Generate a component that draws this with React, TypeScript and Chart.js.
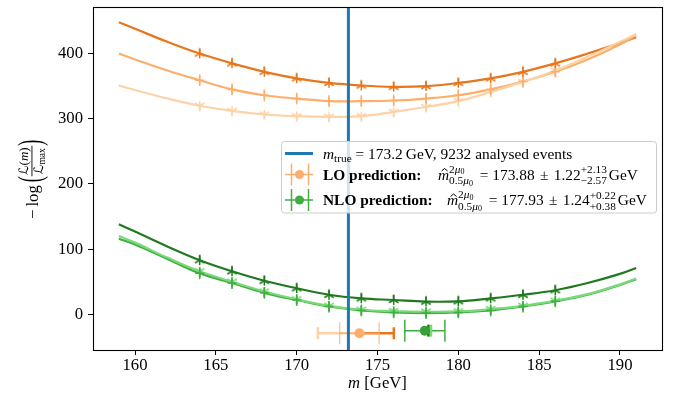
import React, { useEffect, useRef } from "react";
import { Chart, registerables } from "chart.js";

Chart.register(...registerables);

// ---------------- data ----------------
const xTickValues = [160, 165, 170, 175, 180, 185, 190];
const yTickValues = [0, 100, 200, 300, 400];
const xLimits = [157.4, 192.6];
const yLimits = [-54.7, 471.4];

const mTrue = 173.2;

const curveMass = [159, 160, 162, 164, 166, 168, 170, 172, 174, 176, 178, 180, 182, 184, 186, 188, 190, 191];
const loDarkCurve = [448, 438, 418, 400, 385, 372, 362, 355, 351, 349, 350, 355, 362, 372, 385, 400, 416, 425];
const loMidCurve = [400, 391, 374, 359, 345, 336, 331, 327, 327, 328, 331, 336, 345, 357, 372, 391, 414, 428];
const loLightCurve = [351, 344, 331, 320, 312, 306.5, 304, 303, 304, 310.5, 318, 327, 341, 356.5, 374, 395, 418, 430];
const nloDarkCurve = [138, 127, 104, 83, 66, 51.5, 40, 30, 24.5, 22, 19.5, 20, 24.5, 30, 37, 48, 62, 71];
const nloMidCurve = [116, 107, 85, 63, 48, 33, 22, 12, 6, 3, 2, 3, 6, 12, 20, 30, 45, 54];
const nloLightCurve = [120, 110, 87, 66, 50, 35, 23, 13, 7, 5, 4, 4.5, 8, 13, 21, 31, 46, 55];

const markerMass = [164, 166, 168, 170, 172, 174, 176, 178, 180, 182, 184, 186];
const loDarkPts = [400, 385, 372, 362, 355, 351, 349, 350, 355, 362, 372, 385];
const loMidPts = [359, 345, 336, 331, 327, 327, 328, 331, 336, 345, 357, 372];
const loLightPts = [320, 312, 306.5, 304, 303, 304, 310.5, 318, 327, 341, 356.5, 374];
const nloDarkPts = [83, 66, 51.5, 40, 30, 24.5, 22, 19.5, 20, 24.5, 30, 37];
const nloMidPts = [63, 48, 33, 22, 12, 6, 3, 2, 3, 6, 12, 20];
const nloLightPts = [66, 50, 35, 23, 13, 7, 5, 4, 4.5, 8, 13, 21];

const darkErr = 7.5;
const midErr = 9;
const lightErr = 7;

// fitted top-mass results
const loMass = 173.88;
const loStat = 1.22;
const loSysUp = 2.13;
const loSysDown = 2.57;
const loRowY = -29;
const nloMass = 177.93;
const nloStat = 1.24;
const nloSysA = 0.22;
const nloSysB = 0.38;
const nloRowY = -25;

// ---------------- styles ----------------
const C_BLUE = "#1f77b4";
const C_LO_DARK = "#e8761c";
const C_LO_MID = "#fdae6b";
const C_LO_LIGHT = "#fcd2a6";
const C_NLO_DARK = "#1f7a1f";
const C_NLO_MID = "#40ad40";
const C_NLO_LIGHT = "#78da78";

const SERIF = "'Liberation Serif', 'DejaVu Serif', serif";
const CAL = "'DejaVu Serif', 'DejaVu Sans', serif";
const fnt = (size: number, style = "") => `${style} ${size}px ${SERIF}`.trim();

function triCanvas(color: string, up: boolean) {
  const s = 14;
  const c = document.createElement("canvas");
  c.width = s;
  c.height = s;
  const g = c.getContext("2d")!;
  g.strokeStyle = color;
  g.lineWidth = 1.5;
  const r = 5.5;
  const angles = up ? [-90, 30, 150] : [90, -30, -150];
  angles.forEach((a) => {
    const t = (a * Math.PI) / 180;
    g.beginPath();
    g.moveTo(7, 7);
    g.lineTo(7 + r * Math.cos(t), 7 + r * Math.sin(t));
    g.stroke();
  });
  return c;
}

function curveSet(vals: number[], color: string) {
  return {
    type: "line",
    data: curveMass.map((m, i) => ({ x: m, y: vals[i] })),
    borderColor: color,
    borderWidth: 2.2,
    pointRadius: 0,
    tension: 0.4,
    fill: false,
    order: 2,
  };
}

function markerSet(vals: number[], color: string, style: any, err: number, radius: number) {
  return {
    type: "line",
    data: markerMass.map((m, i) => ({ x: m, y: vals[i] })),
    showLine: false,
    borderColor: color,
    backgroundColor: color,
    pointStyle: style,
    pointRadius: radius,
    pointBorderWidth: 1.5,
    yErr: err,
    order: 1,
  };
}

function drawRuns(ctx: CanvasRenderingContext2D, runs: any[], x: number, y: number): number {
  const x0 = x;
  for (const r of runs) {
    if (r.stack) {
      const w1 = drawRuns(ctx, r.stack[0], x, y - r.up);
      const w2 = drawRuns(ctx, r.stack[1], x, y + r.down);
      x += Math.max(w1, w2);
    } else if (r.space !== undefined) {
      x += r.space;
    } else {
      ctx.font = r.f;
      const w = ctx.measureText(r.t).width;
      ctx.fillText(r.t, x, y + (r.dy || 0));
      if (r.hat) {
        const cx = x + w / 2 + 1;
        const top = y - r.hat;
        ctx.beginPath();
        ctx.lineWidth = 1;
        ctx.moveTo(cx - 3, top + 2.5);
        ctx.lineTo(cx, top);
        ctx.lineTo(cx + 3, top + 2.5);
        ctx.stroke();
      }
      x += w;
    }
  }
  return x - x0;
}

function hLineErr(ctx: CanvasRenderingContext2D, x1: number, x2: number, y: number, color: string, lw: number, capH: number, caps: number[]) {
  ctx.strokeStyle = color;
  ctx.lineWidth = lw;
  ctx.beginPath();
  ctx.moveTo(x1, y);
  ctx.lineTo(x2, y);
  ctx.stroke();
  caps.forEach((cx) => {
    ctx.beginPath();
    ctx.moveTo(cx, y - capH);
    ctx.lineTo(cx, y + capH);
    ctx.stroke();
  });
}

const decorPlugin = {
  id: "decor",
  beforeDatasetsDraw(chart: any) {
    const ctx = chart.ctx as CanvasRenderingContext2D;
    const xs = chart.scales.x;
    const ys = chart.scales.y;
    const px = (v: number) => xs.getPixelForValue(v);
    ctx.save();
    // LO summary
    let y = ys.getPixelForValue(loRowY);
    hLineErr(ctx, px(loMass - loSysDown), px(loMass), y, C_LO_LIGHT, 2.5, 6, [px(loMass - loSysDown)]);
    hLineErr(ctx, px(loMass), px(loMass + loSysUp), y, C_LO_DARK, 2.5, 6, [px(loMass + loSysUp)]);
    hLineErr(ctx, px(loMass - loStat), px(loMass + loStat), y, "rgba(253,174,107,0.75)", 1.3, 11, [px(loMass - loStat), px(loMass + loStat)]);
    ctx.fillStyle = C_LO_MID;
    ctx.beginPath();
    ctx.arc(px(loMass), y, 5, 0, Math.PI * 2);
    ctx.fill();
    // NLO summary
    y = ys.getPixelForValue(nloRowY);
    hLineErr(ctx, px(nloMass - nloStat), px(nloMass + nloStat), y, C_NLO_MID, 1.5, 11, [px(nloMass - nloStat), px(nloMass + nloStat)]);
    hLineErr(ctx, px(nloMass), px(nloMass + nloSysB), y, C_NLO_LIGHT, 2.5, 6, [px(nloMass + nloSysB)]);
    hLineErr(ctx, px(nloMass), px(nloMass + nloSysA), y, C_NLO_DARK, 2.5, 6, [px(nloMass + nloSysA)]);
    ctx.fillStyle = "#38a038";
    ctx.beginPath();
    ctx.arc(px(nloMass), y, 5, 0, Math.PI * 2);
    ctx.fill();
    ctx.restore();
  },
  afterDatasetDraw(chart: any, args: any) {
    const ds = chart.data.datasets[args.index];
    if (!ds.yErr) return;
    const ctx = chart.ctx as CanvasRenderingContext2D;
    const xs = chart.scales.x;
    const ys = chart.scales.y;
    ctx.save();
    ctx.strokeStyle = ds.borderColor;
    ctx.lineWidth = 1.5;
    ds.data.forEach((p: any) => {
      const x = xs.getPixelForValue(p.x);
      ctx.beginPath();
      ctx.moveTo(x, ys.getPixelForValue(p.y - ds.yErr));
      ctx.lineTo(x, ys.getPixelForValue(p.y + ds.yErr));
      ctx.stroke();
    });
    ctx.restore();
  },
  afterDatasetsDraw(chart: any) {
    const ctx = chart.ctx as CanvasRenderingContext2D;
    const a = chart.chartArea;
    ctx.save();
    ctx.strokeStyle = "#000";
    ctx.lineWidth = 1.1;
    ctx.strokeRect(Math.round(a.left) + 0.5, Math.round(a.top) + 0.5, Math.round(a.right - a.left), Math.round(a.bottom - a.top));
    ctx.restore();
  },
  afterDraw(chart: any) {
    const ctx = chart.ctx as CanvasRenderingContext2D;
    const a = chart.chartArea;
    ctx.save();
    ctx.fillStyle = "#000";
    ctx.strokeStyle = "#000";
    ctx.textBaseline = "alphabetic";

    // ---- legend ----
    const lx = 281.5, ly = 141.5, lw = 375, lh = 71.5, rr = 3;
    ctx.beginPath();
    ctx.moveTo(lx + rr, ly);
    ctx.arcTo(lx + lw, ly, lx + lw, ly + lh, rr);
    ctx.arcTo(lx + lw, ly + lh, lx, ly + lh, rr);
    ctx.arcTo(lx, ly + lh, lx, ly, rr);
    ctx.arcTo(lx, ly, lx + lw, ly, rr);
    ctx.closePath();
    ctx.fillStyle = "rgba(255,255,255,0.8)";
    ctx.fill();
    ctx.strokeStyle = "#cccccc";
    ctx.lineWidth = 1;
    ctx.stroke();

    // handles
    ctx.strokeStyle = C_BLUE;
    ctx.lineWidth = 3;
    ctx.beginPath();
    ctx.moveTo(285, 153.5);
    ctx.lineTo(313, 153.5);
    ctx.stroke();
    const handle = (yc: number, col: string) => {
      hLineErr(ctx, 285, 313, yc, col, 1.5, 11, [291.5, 308.5]);
      ctx.fillStyle = col;
      ctx.beginPath();
      ctx.arc(299.5, yc, 4.5, 0, Math.PI * 2);
      ctx.fill();
    };
    handle(174.5, C_LO_MID);
    handle(200, C_NLO_MID);

    ctx.fillStyle = "#000";
    ctx.strokeStyle = "#000";
    const tx = 323;
    const F = 15.4;
    const S = 11.3;
    drawRuns(ctx, [
      { t: "m", f: fnt(F, "italic") },
      { t: "true", f: fnt(S), dy: 3 },
      { t: " = 173.2\u2009GeV, 9232 analysed events", f: fnt(F) },
    ], tx, 158.5);

    const mhat = {
      stack: [
        [{ t: "2", f: fnt(S) }, { t: "\u03bc", f: fnt(S, "italic") }, { t: "0", f: fnt(8), dy: 1.5 }],
        [{ t: "0.5", f: fnt(S) }, { t: "\u03bc", f: fnt(S, "italic") }, { t: "0", f: fnt(8), dy: 1.5 }],
      ],
      up: 7,
      down: 4.5,
    };

    drawRuns(ctx, [{ t: "LO prediction:", f: fnt(F, "bold") }], tx, 179.5);
    drawRuns(ctx, [
      { t: "m", f: fnt(F, "italic"), hat: 11 },
      mhat,
      { space: 3 },
      { t: " = 173.88 ", f: fnt(F) },
      { space: 1.5 },
      { t: "\u00b1 ", f: fnt(F) },
      { space: 1.5 },
      { t: "1.22", f: fnt(F) },
      { stack: [[{ t: "+2.13", f: fnt(S) }], [{ t: "\u22122.57", f: fnt(S) }]], up: 6.5, down: 4.5 },
      { space: 2 },
      { t: "GeV", f: fnt(F) },
    ], 438, 179.5);

    drawRuns(ctx, [{ t: "NLO prediction:", f: fnt(F, "bold") }], tx, 205);
    drawRuns(ctx, [
      { t: "m", f: fnt(F, "italic"), hat: 11 },
      mhat,
      { space: 3 },
      { t: " = 177.93 ", f: fnt(F) },
      { space: 1.5 },
      { t: "\u00b1 ", f: fnt(F) },
      { space: 1.5 },
      { t: "1.24", f: fnt(F) },
      { stack: [[{ t: "+0.22", f: fnt(S) }], [{ t: "+0.38", f: fnt(S) }]], up: 6.5, down: 4.5 },
      { space: 2 },
      { t: "GeV", f: fnt(F) },
    ], 447, 205);

    // ---- x title ----
    ctx.font = fnt(16.7, "italic");
    const wm = ctx.measureText("m ").width;
    ctx.font = fnt(16.7);
    const wg = ctx.measureText("[GeV]").width;
    const xc = (a.left + a.right) / 2;
    const x0 = xc - (wm + wg) / 2;
    ctx.font = fnt(16.7, "italic");
    ctx.fillText("m", x0, 388);
    ctx.font = fnt(16.7);
    ctx.fillText("[GeV]", x0 + wm, 388);

    // ---- y title (rotated) ----
    ctx.save();
    ctx.translate(38, 219);
    ctx.rotate(-Math.PI / 2);
    let rx = 0;
    ctx.font = fnt(16.7);
    ctx.fillText("\u2212", rx, 0);
    rx += ctx.measureText("\u2212").width + 3;
    ctx.fillText("log", rx, 0);
    rx += ctx.measureText("log").width + 3;
    const bigParen = (ch: string, at: number) => {
      ctx.save();
      ctx.font = fnt(18);
      ctx.translate(at, 3);
      ctx.scale(1, 1.85);
      ctx.fillText(ch, 0, 0);
      const w = ctx.measureText(ch).width;
      ctx.restore();
      return w;
    };
    rx += bigParen("(", rx);
    // fraction
    const FS = 13;
    ctx.font = `italic ${FS}px ${CAL}`;
    const wL = ctx.measureText("\u2112").width;
    ctx.font = fnt(FS);
    const wP = ctx.measureText("(").width;
    const wPc = ctx.measureText(")").width;
    ctx.font = fnt(FS, "italic");
    const wM = ctx.measureText("m").width;
    const numW = wL + wP + wM + wPc;
    ctx.font = fnt(9.5);
    const wMax = ctx.measureText("max").width;
    const denW = wL + wMax;
    const fw = Math.max(numW, denW) + 3;
    let nx = rx + (fw - numW) / 2;
    ctx.font = `italic ${FS}px ${CAL}`;
    ctx.fillText("\u2112", nx, -10);
    nx += wL;
    ctx.font = fnt(FS);
    ctx.fillText("(", nx, -10);
    nx += wP;
    ctx.font = fnt(FS, "italic");
    ctx.fillText("m", nx, -10);
    nx += wM;
    ctx.font = fnt(FS);
    ctx.fillText(")", nx, -10);
    ctx.fillRect(rx, -6.5, fw, 0.9);
    let dx = rx + (fw - denW) / 2;
    ctx.font = `italic ${FS}px ${CAL}`;
    ctx.fillText("\u2112", dx, 5);
    dx += wL;
    ctx.font = fnt(9.5);
    ctx.fillText("max", dx, 7);
    rx += fw;
    bigParen(")", rx);
    ctx.restore();

    ctx.restore();
  },
};

export default function App() {
  const ref = useRef<HTMLCanvasElement>(null);
  useEffect(() => {
    const canvas = ref.current!;
    const tickFont = { family: SERIF, size: 16.7 };
    const chart = new Chart(canvas, {
      type: "line",
      data: {
        datasets: [
          {
            type: "line",
            data: [
              { x: mTrue, y: -1000 },
              { x: mTrue, y: 1000 },
            ],
            borderColor: C_BLUE,
            borderWidth: 3,
            pointRadius: 0,
            order: 0,
          },
          markerSet(loDarkPts, C_LO_DARK, triCanvas(C_LO_DARK, true), darkErr, 5),
          markerSet(loMidPts, C_LO_MID, "cross", midErr, 4.5),
          markerSet(loLightPts, C_LO_LIGHT, triCanvas(C_LO_LIGHT, false), lightErr, 5),
          markerSet(nloDarkPts, C_NLO_DARK, triCanvas(C_NLO_DARK, true), darkErr, 5),
          markerSet(nloMidPts, C_NLO_MID, "cross", midErr, 4.5),
          markerSet(nloLightPts, C_NLO_LIGHT, triCanvas(C_NLO_LIGHT, false), lightErr, 5),
          curveSet(loLightCurve, C_LO_LIGHT),
          curveSet(loMidCurve, C_LO_MID),
          curveSet(loDarkCurve, C_LO_DARK),
          curveSet(nloLightCurve, C_NLO_LIGHT),
          curveSet(nloMidCurve, C_NLO_MID),
          curveSet(nloDarkCurve, C_NLO_DARK),
        ] as any,
      },
      options: {
        responsive: false,
        animation: false,
        devicePixelRatio: 1,
        layout: { padding: { left: 0, right: 16, top: 7, bottom: 0 } },
        plugins: { legend: { display: false }, tooltip: { enabled: false } },
        events: [],
        scales: {
          x: {
            type: "linear",
            min: xLimits[0],
            max: xLimits[1],
            afterBuildTicks: (s: any) => {
              s.ticks = xTickValues.map((v) => ({ value: v }));
            },
            afterFit: (s: any) => {
              s.height = 52;
              s.paddingLeft = 0;
              s.paddingRight = 0;
            },
            grid: { drawOnChartArea: false, drawTicks: true, tickLength: 5, color: "#000", lineWidth: 1 },
            border: { display: true, color: "#000", width: 1 },
            ticks: { font: tickFont, color: "#000", padding: 1, maxRotation: 0, autoSkip: false, callback: (v: any) => String(v) },
          },
          y: {
            type: "linear",
            min: yLimits[0],
            max: yLimits[1],
            afterBuildTicks: (s: any) => {
              s.ticks = yTickValues.map((v) => ({ value: v }));
            },
            afterFit: (s: any) => {
              s.width = 93;
              s.paddingTop = 0;
              s.paddingBottom = 0;
            },
            grid: { drawOnChartArea: false, drawTicks: true, tickLength: 5, color: "#000", lineWidth: 1 },
            border: { display: true, color: "#000", width: 1 },
            ticks: { font: tickFont, color: "#000", padding: 5, autoSkip: false, callback: (v: any) => String(v) },
          },
        },
      } as any,
      plugins: [decorPlugin as any],
    });
    return () => chart.destroy();
  }, []);
  return (
    <div style={{ position: "fixed", left: 0, top: 0, width: 678, height: 402, background: "#fff" }}>
      <canvas ref={ref} width={678} height={402} style={{ display: "block" }} />
    </div>
  );
}
